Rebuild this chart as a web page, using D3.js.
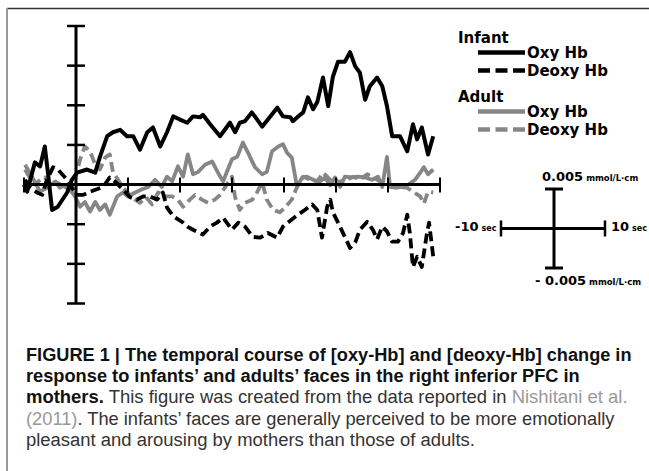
<!DOCTYPE html>
<html>
<head>
<meta charset="utf-8">
<script src="https://cdn.jsdelivr.net/npm/d3@7"></script>
<style>
  html, body { margin: 0; padding: 0; background: #fff; }
  svg { display: block; }
</style>
</head>
<body>
<svg id="chart" width="649" height="471"></svg>
<script>
// ---- DATA (time in sec, value in 10^-3 mmol/L·cm) ----
const infantOxy = [[-10,0],[-9.4,-0.9],[-7.9,2.8],[-6.9,2.3],[-6,4.8],[-5.4,1.5],[-4.6,-3.2],[-3.5,-2.8],[-1.7,-1.0],[-0.8,0.6],[0.2,1.5],[2.1,1.9],[3.7,1.5],[4.6,3.5],[6,6.1],[7.1,6.6],[8.5,6.9],[9.8,6.1],[11,6.1],[12.3,4.4],[13.7,6.6],[14.8,7.2],[16.2,4.8],[17.5,6.6],[18.7,8.6],[20,8.2],[21.4,7.8],[22.5,8.6],[23.9,8.5],[24.4,8.8],[25.8,7.6],[27.7,6.1],[29.6,7.8],[30.6,6.6],[31.5,7.8],[32.5,8.0],[33.8,9.1],[34.4,8.6],[35.8,7.3],[36.9,8.2],[38.7,9.7],[39.8,8.6],[41.2,8.5],[41.7,8.0],[43.1,8.8],[43.7,9.1],[44.6,11.0],[45.6,9.5],[46.4,10.4],[47.5,13.5],[48.5,9.9],[49.4,13.6],[50.4,15.5],[51.7,15.5],[52.7,16.7],[53.7,14.9],[54.6,14.1],[55.6,10.7],[56.5,12.4],[57.9,13.5],[58.9,12.4],[59.8,9.9],[60.8,6.1],[62.3,6.1],[63.7,4.2],[64.8,7.6],[65.6,5.7],[66.5,7.2],[67.7,3.8],[68.7,6.1]];
const infantDeoxy = [[-9.8,0.6],[-8.9,-0.3],[-7.5,-1.0],[-6.5,-1.3],[-5.6,0.6],[-4.4,2.2],[-3.5,1.9],[-1.7,0.6],[-0.8,-0.4],[0.2,-1.3],[1.4,-1.3],[2.7,-0.9],[4.0,-0.6],[5.2,-0.3],[6.5,0.9],[7.5,0.4],[9.0,-0.6],[10.4,-1.6],[11.7,-1.9],[12.9,-1.5],[14.2,-1.5],[15.6,-1.9],[16.7,-1.0],[17.5,-2.9],[18.7,-4.0],[20.4,-4.7],[21.4,-5.3],[22.5,-5.7],[24.4,-6.3],[25.8,-5.3],[27.1,-4.8],[28.3,-4.2],[30,-5.7],[31.2,-4.8],[32.5,-5.3],[34.0,-6.6],[35.4,-6.7],[36.9,-6.1],[38.7,-6.7],[39.8,-5.3],[41.5,-4.4],[42.7,-3.8],[44.0,-3.2],[45.4,-2.5],[46.4,-3.2],[47.3,-6.7],[48.3,-2.8],[48.9,-1.9],[49.4,-3.5],[50.4,-4.8],[51.7,-6.6],[52.7,-8.0],[53.7,-7.3],[54.6,-5.7],[56.0,-4.7],[57.1,-5.7],[57.9,-6.9],[58.9,-5.3],[59.8,-5.9],[60.8,-7.2],[61.9,-7.2],[62.9,-6.1],[63.7,-3.8],[64.2,-6.1],[64.8,-10.4],[65.6,-9.1],[66.5,-10.4],[67.5,-6.1],[67.9,-4.8],[68.7,-9.1]];
const adultOxy = [[-9.8,2.5],[-8.9,1.5],[-7.9,0.3],[-6.9,-0.9],[-5.6,-0.4],[-4.0,0.4],[-2.7,-0.1],[-1.2,-0.6],[-0.2,-1.5],[0.8,-2.8],[1.7,-2.2],[2.7,-3.4],[3.7,-2.2],[4.6,-3.2],[5.6,-2.5],[6.5,-3.8],[7.9,-1.5],[9.0,-1.0],[10,-1.5],[11.4,-1.0],[12.7,-0.6],[13.9,-0.3],[15.2,0.6],[16.5,-0.3],[17.5,1.0],[18.5,0.4],[19.6,2.3],[20.6,1.0],[21.5,3.8],[22.5,1.3],[23.5,1.6],[24.8,2.5],[26.2,2.9],[27.3,1.5],[28.3,0.4],[29.2,1.9],[30,3.2],[31.0,3.5],[32.1,5.3],[33.1,4.0],[34.4,2.2],[35.8,1.3],[36.7,1.6],[37.7,4.2],[38.9,4.8],[39.8,5.1],[40.6,4.0],[41.5,3.4],[42.5,-0.3],[43.5,0.9],[44.4,1.0],[45.6,0.6],[46.9,0.4],[47.9,0.9],[48.9,-0.1],[49.8,0.9],[50.8,-0.3],[51.7,1.0],[53.1,0.9],[54.2,1.0],[55.6,0.9],[56.9,0.6],[58.1,1.0],[58.9,-0.3],[59.8,3.5],[60.4,-0.3],[61.4,-0.4],[62.7,-0.3],[63.9,0],[65.2,0.6],[66.2,1.5],[66.9,2.2],[67.7,1.3],[68.7,1.9]];
const adultDeoxy = [[-9.8,1.9],[-8.9,0.9],[-7.9,0],[-6.9,0.6],[-6.0,0.9],[-5,0],[-4.0,0.3],[-3.1,-0.4],[-2.1,0],[-1.2,-0.6],[-0.2,0.6],[0.8,3.2],[1.7,4.8],[2.7,4.2],[3.7,2.5],[4.6,1.9],[5.6,3.4],[6.5,3.8],[7.1,1.6],[8.1,0.6],[9.0,-0.4],[10.4,-1.3],[11.4,-1.9],[12.3,-2.3],[13.5,-1.6],[14.6,-2.5],[15.8,-1.0],[17.1,-1.5],[18.5,-1.5],[19.6,-1.9],[20.6,-2.8],[21.9,-1.9],[22.9,-1.3],[24.2,-1.9],[25.4,-2.3],[26.7,-1.9],[27.7,-1.3],[28.7,-0.3],[30,1.0],[30.6,-1.6],[31.5,-3.2],[32.5,-2.3],[33.9,-1.9],[34.8,-1.0],[35.8,0.3],[36.7,-1.9],[37.9,-3.2],[39.2,-3.5],[40.2,-2.9],[41.5,-1.9],[42.5,-0.3],[43.7,1.0],[45,0.6],[46.4,0.4],[47.5,1.5],[48.9,0.6],[49.8,0],[50.8,0.4],[52.1,0.6],[53.3,1.0],[54.6,0.6],[56.0,1.3],[57.1,0.9],[58.5,0.4],[59.8,0.3],[61.0,-0.3],[62.3,-0.3],[63.7,-0.4],[64.8,-0.9],[66.2,-1.5],[66.9,-2.4],[67.7,-0.9],[68.7,-1.0]];

const xTicks = [-10, 0, 10, 20, 30, 40, 50, 60, 70];
const yTicks = [-15, -10, -5, 0, 5, 10, 15, 20];

const legendGroups = ["Infant", "Adult"];
const legendItems = ["Oxy Hb", "Deoxy Hb"];
const scaleLabelsY = ["0.005", "- 0.005"];
const scaleUnitY = "mmol/L·cm";
const scaleLabelsX = ["-10", "10"];
const scaleUnitX = "sec";

const captionLines = [
  [["b","FIGURE 1 | The temporal course of [oxy-Hb] and [deoxy-Hb] change in"]],
  [["b","response to infants’ and adults’ faces in the right inferior PFC in"]],
  [["b","mothers."],["n"," This figure was created from the data reported in "],["l","Nishitani et al."]],
  [["l","(2011)"],["n",". The infants’ faces are generally perceived to be more emotionally"]],
  [["n","pleasant and arousing by mothers than those of adults."]]
];

// ---- DRAW ----
const svg = d3.select("#chart");
const GRAY = "#868686";
const BOLDF = "'DejaVu Sans', Verdana, sans-serif";

// frame
svg.append("line").attr("x1", 7).attr("x2", 649).attr("y1", 8.5).attr("y2", 8.5)
  .attr("stroke", "#333").attr("stroke-width", 1.5);
svg.append("line").attr("x1", 7).attr("x2", 7).attr("y1", 8).attr("y2", 471)
  .attr("stroke", "#999").attr("stroke-width", 2);

const x = d3.scaleLinear().domain([-10, 70]).range([24, 440]);
const y = d3.scaleLinear().domain([-15, 20]).range([303.5, 26]);

const line = d3.line().x(d => x(d[0])).y(d => y(d[1])).curve(d3.curveLinear);

const plot = svg.append("g");
const series = [
  {data: adultOxy, color: GRAY, dash: null, w: 3.8},
  {data: adultDeoxy, color: GRAY, dash: "10,5", w: 3.8},
  {data: infantDeoxy, color: "#000", dash: "10,5", w: 3.8},
  {data: infantOxy, color: "#000", dash: null, w: 4}
];
series.forEach(s => {
  plot.append("path").datum(s.data).attr("d", line)
    .attr("fill", "none").attr("stroke", s.color).attr("stroke-width", s.w)
    .attr("stroke-linejoin", "round")
    .attr("stroke-dasharray", s.dash);
});

// axes
const axes = svg.append("g");
axes.append("line").attr("x1", x(-10)).attr("x2", x(70)).attr("y1", y(0)).attr("y2", y(0))
  .attr("stroke", "#000").attr("stroke-width", 3);
axes.append("line").attr("x1", x(0)).attr("x2", x(0)).attr("y1", y(20)).attr("y2", y(-15))
  .attr("stroke", "#000").attr("stroke-width", 3);
axes.selectAll(".yt").data(yTicks).join("line")
  .attr("x1", x(0) - 9).attr("x2", x(0) + 9)
  .attr("y1", d => y(d)).attr("y2", d => y(d))
  .attr("stroke", "#000").attr("stroke-width", 2.5);
axes.selectAll(".xt").data(xTicks.filter(d => d !== 0)).join("line")
  .attr("x1", d => x(d)).attr("x2", d => x(d))
  .attr("y1", y(0) - 7).attr("y2", y(0) + 8)
  .attr("stroke", "#000").attr("stroke-width", 2);

// legend
const leg = svg.append("g").attr("font-family", BOLDF).attr("font-weight", "bold").attr("font-size", 15);
const legTop = [43, 102];
const legColors = ["#000", GRAY];
legendGroups.forEach((g, gi) => {
  leg.append("text").attr("x", 458).attr("y", legTop[gi]).text(g).attr("fill", "#000");
  legendItems.forEach((it, ii) => {
    const ly = legTop[gi] + 9.5 + ii * 18;
    leg.append("line").attr("x1", 478).attr("x2", 525).attr("y1", ly).attr("y2", ly)
      .attr("stroke", legColors[gi]).attr("stroke-width", 4.5)
      .attr("stroke-dasharray", ii === 1 ? "12,5.5" : null);
    leg.append("text").attr("x", 527).attr("y", ly + 5.5).text(it).attr("fill", "#000");
  });
});

// scale cross
const sc = svg.append("g").attr("stroke", "#000").attr("stroke-width", 3);
const cx = 554, cy = 228.5;
sc.append("line").attr("x1", cx).attr("x2", cx).attr("y1", 189).attr("y2", 268);
sc.append("line").attr("x1", cx - 9).attr("x2", cx + 9).attr("y1", 189).attr("y2", 189);
sc.append("line").attr("x1", cx - 9).attr("x2", cx + 9).attr("y1", 268).attr("y2", 268);
sc.append("line").attr("x1", 501).attr("x2", 605).attr("y1", cy).attr("y2", cy);
sc.append("line").attr("x1", 501).attr("x2", 501).attr("y1", cy - 8).attr("y2", cy + 8).attr("stroke-width", 2.5);
sc.append("line").attr("x1", 605).attr("x2", 605).attr("y1", cy - 8).attr("y2", cy + 8).attr("stroke-width", 2.5);

const st = svg.append("g").attr("font-family", BOLDF).attr("font-weight", "bold").attr("fill", "#000");
function scaleLabel(xp, yp, big, small, bigSize, smallSize) {
  const t = st.append("text").attr("x", xp).attr("y", yp);
  t.append("tspan").attr("font-size", bigSize).text(big);
  t.append("tspan").attr("font-size", smallSize).attr("dx", 3).text(small);
}
scaleLabel(542, 181, scaleLabelsY[0], scaleUnitY, 13, 8.5);
scaleLabel(535, 285, scaleLabelsY[1], scaleUnitY, 13, 8.5);
scaleLabel(455, 231, scaleLabelsX[0], scaleUnitX, 13, 8);
scaleLabel(611, 231, scaleLabelsX[1], scaleUnitX, 13, 8);

// caption
const capBase = [361, 382, 403, 424.5, 445.5];
const capEnd = [632, 580, 628, 615, 475];
const cap = svg.append("g").attr("font-family", "'Liberation Sans Narrow', 'Liberation Sans', Arial, sans-serif")
  .attr("font-size", 19);
captionLines.forEach((ln, i) => {
  const t = cap.append("text").attr("x", 0).attr("y", 0);
  ln.forEach(([k, s]) => {
    t.append("tspan").text(s)
      .attr("font-weight", k === "b" ? "bold" : "normal")
      .attr("fill", k === "b" ? "#111" : (k === "l" ? "#999" : "#333"));
  });
  const w = t.node().getComputedTextLength();
  const sx = (capEnd[i] - 26) / w;
  t.attr("transform", `translate(26,${capBase[i]}) scale(${sx},1)`);
});
</script>
</body>
</html>
